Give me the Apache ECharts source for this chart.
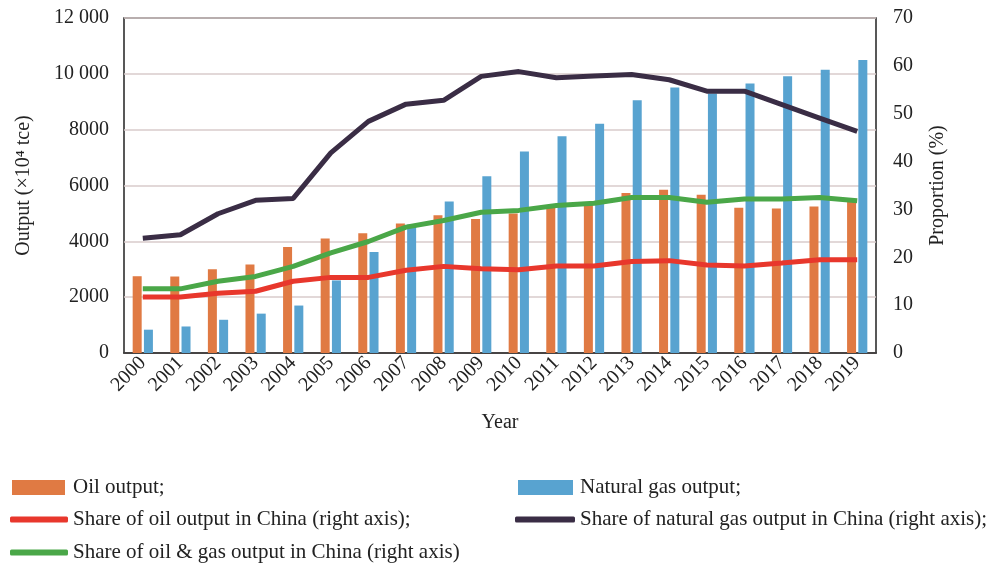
<!DOCTYPE html>
<html>
<head>
<meta charset="utf-8">
<script src="https://cdn.jsdelivr.net/npm/echarts@6/dist/echarts.min.js"></script>
<style>
  html, body { margin: 0; padding: 0; background: #fff; }
  #main { width: 997px; height: 566px; }
</style>
</head>
<body>
<div id="main"></div>
<script>
// 年份
const years = ['2000', '2001', '2002', '2003', '2004', '2005', '2006', '2007', '2008', '2009',
  '2010', '2011', '2012', '2013', '2014', '2015', '2016', '2017', '2018', '2019']

// 产量 (10^4 tce)
const oilOutput = [2750, 2740, 3000, 3170, 3800, 4100, 4290, 4640, 4930, 4800,
  5000, 5200, 5400, 5730, 5850, 5670, 5200, 5180, 5250, 5410]
const gasOutput = [835, 950, 1190, 1410, 1700, 2600, 3620, 4600, 5430, 6330,
  7220, 7760, 8210, 9050, 9510, 9300, 9650, 9910, 10150, 10500]

// 占比 (%)
const oilShare = [11.7, 11.7, 12.5, 12.9, 15.0, 15.8, 15.8, 17.3, 18.1, 17.6,
  17.4, 18.2, 18.2, 19.1, 19.3, 18.4, 18.2, 18.8, 19.5, 19.5]
const gasShare = [24.0, 24.7, 29.1, 31.9, 32.3, 41.8, 48.4, 52.0, 52.8, 57.8,
  58.8, 57.5, 57.9, 58.2, 57.1, 54.7, 54.7, 51.9, 49.1, 46.3]
const oilGasShare = [13.4, 13.4, 15.0, 16.0, 18.1, 20.9, 23.3, 26.3, 27.7, 29.4,
  29.8, 30.8, 31.3, 32.5, 32.5, 31.5, 32.2, 32.2, 32.5, 31.8]

const font = 'Liberation Serif'
const txt = { fontFamily: font, fontSize: 20, color: '#222' }

// 图例：每项单独放置
function legendItem (name, left, top, icon, w, h, pad) {
  return {
    data: [name],
    left: left,
    top: top,
    icon: icon,
    itemWidth: w,
    itemHeight: h,
    itemGap: 0,
    padding: 0,
    textStyle: { fontFamily: font, fontSize: 21, color: '#222', padding: [0, 0, 0, pad] },
    selectedMode: false
  }
}

const option = {
  animation: false,
  legend: [
    legendItem('Oil output;', 12, 477, 'rect', 53, 15, 3),
    legendItem('Natural gas output;', 518, 477, 'rect', 55, 15, 2),
    legendItem('Share of oil output in China (right axis);', 10, 509, 'roundRect', 58, 6, 0),
    legendItem('Share of natural gas output in China (right axis);', 515, 509, 'roundRect', 60, 6, 0),
    legendItem('Share of oil & gas output in China (right axis)', 10, 542, 'roundRect', 58, 6, 0)
  ],
  grid: {
    left: 124,
    right: 121,
    top: 18,
    bottom: 213,
    show: true,
    borderColor: '#222',
    borderWidth: 1.5
  },
  xAxis: {
    type: 'category',
    data: years,
    name: 'Year',
    nameLocation: 'middle',
    nameGap: 60,
    nameTextStyle: txt,
    axisLine: { show: true, lineStyle: { color: '#222', width: 1.5 } },
    axisTick: { show: false },
    axisLabel: { ...txt, rotate: 45, margin: 7, interval: 0 }
  },
  yAxis: [
    {
      type: 'value',
      min: 0,
      max: 12000,
      interval: 2000,
      name: 'Output (×10⁴ tce)',
      nameLocation: 'middle',
      nameGap: 90,
      nameTextStyle: txt,
      axisLine: { show: false },
      axisTick: { show: false },
      axisLabel: {
        ...txt,
        margin: 15,
        formatter: v => v >= 10000 ? String(v).replace(/(\d{3})$/, ' $1') : String(v)
      },
      splitLine: { lineStyle: { color: '#d9cbcb', width: 1.5 } }
    },
    {
      type: 'value',
      min: 0,
      max: 70,
      interval: 10,
      name: 'Proportion (%)',
      nameLocation: 'middle',
      nameGap: 52,
      nameTextStyle: txt,
      axisLine: { show: false },
      axisTick: { show: false },
      axisLabel: { ...txt, margin: 17 },
      splitLine: { show: false }
    }
  ],
  series: [
    {
      name: 'Oil output;',
      type: 'bar',
      data: oilOutput,
      barWidth: 9,
      barGap: '25%',
      itemStyle: { color: '#e07a43' }
    },
    {
      name: 'Natural gas output;',
      type: 'bar',
      data: gasOutput,
      barWidth: 9,
      barGap: '25%',
      itemStyle: { color: '#58a3d0' }
    },
    {
      name: 'Share of oil output in China (right axis);',
      type: 'line',
      yAxisIndex: 1,
      data: oilShare,
      showSymbol: false,
      lineStyle: { color: '#e8372c', width: 5 },
      itemStyle: { color: '#e8372c' },
      z: 3
    },
    {
      name: 'Share of natural gas output in China (right axis);',
      type: 'line',
      yAxisIndex: 1,
      data: gasShare,
      showSymbol: false,
      lineStyle: { color: '#3a2d45', width: 5 },
      itemStyle: { color: '#3a2d45' },
      z: 3
    },
    {
      name: 'Share of oil & gas output in China (right axis)',
      type: 'line',
      yAxisIndex: 1,
      data: oilGasShare,
      showSymbol: false,
      lineStyle: { color: '#4aa748', width: 5 },
      itemStyle: { color: '#4aa748' },
      z: 4
    }
  ]
}

const chart = echarts.init(document.getElementById('main'))
chart.setOption(option)
</script>
</body>
</html>
